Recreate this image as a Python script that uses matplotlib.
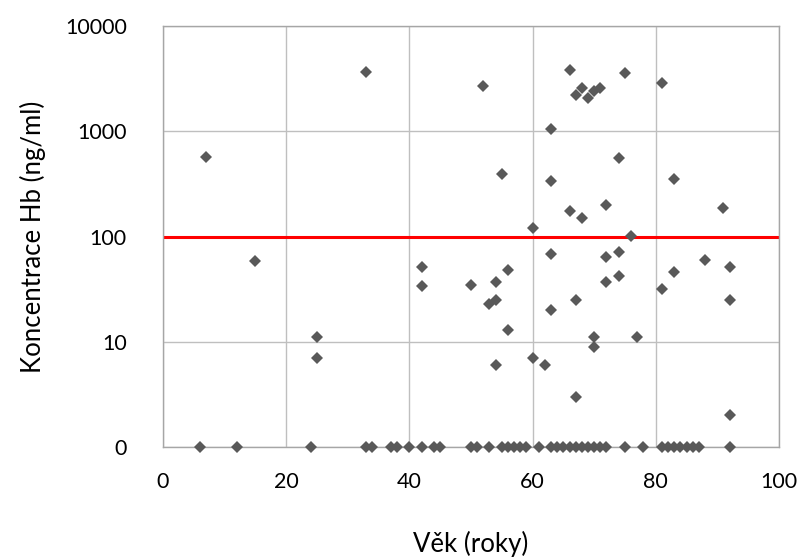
import matplotlib.pyplot as plt
import matplotlib.ticker as mticker

plt.rcParams['font.family'] = ['Lato', 'DejaVu Sans']

# points with a measured concentration (ng/ml)
age = [7, 15, 25, 25, 33, 42, 42, 50, 52, 53, 54, 54, 54, 55, 56, 56,
       60, 60, 62, 63, 63, 63, 63, 66, 66, 67, 67, 67, 68, 68, 69, 70,
       70, 70, 71, 72, 72, 72, 74, 74, 74, 75, 76, 77, 81, 81, 83, 83,
       88, 91, 92, 92, 92]
hb = [570, 58, 11, 7, 3700, 51, 34, 34.5, 2700, 23, 37, 25, 6, 390, 48, 13,
      120, 7, 6, 1050, 340, 69, 20, 3800, 175, 2200, 25, 3, 2600, 150, 2100, 2400,
      11, 9, 2600, 200, 64, 37, 560, 71, 42, 3600, 102, 11, 2900, 32, 350, 46,
      60, 185, 51, 25, 2]

# points with concentration 0 (drawn on the "0" line)
age_zero = [6, 12, 24, 33, 34, 37, 38, 40, 42, 44, 45, 50, 51, 53, 55, 56, 57,
            58, 59, 61, 63, 64, 65, 66, 67, 68, 69, 70, 71, 72, 75, 78, 81, 82,
            83, 84, 85, 86, 87, 92]

limit = 100
ytick_vals = [1, 10, 100, 1000, 10000]
ytick_labels = ["0", "10", "100", "1000", "10000"]

fig = plt.figure(figsize=(8.03, 5.58), dpi=100)
ax = fig.add_axes([0.203, 0.199, 0.767, 0.754])

ax.set_yscale('log')
ax.set_xlim(0, 100)
ax.set_ylim(1, 10000)

ax.grid(True, color='#bfbfbf', linewidth=1)
ax.set_axisbelow(True)
for s in ax.spines.values():
    s.set_color('#a6a6a6')
    s.set_linewidth(1)

ax.axhline(limit, color='#ff0000', linewidth=2.2, zorder=2)

mk = dict(marker='D', linestyle='none', markersize=6.2, color='#595959',
          markeredgewidth=0, zorder=3, clip_on=False)
ax.plot(age, hb, **mk)
ax.plot(age_zero, [1] * len(age_zero), **mk)

ax.set_xticks([0, 20, 40, 60, 80, 100])
ax.yaxis.set_major_locator(mticker.FixedLocator(ytick_vals))
ax.yaxis.set_minor_locator(mticker.NullLocator())
ax.set_yticklabels(ytick_labels)
ax.tick_params(axis='both', length=0, labelsize=15.5, colors='black')
ax.tick_params(axis='y', pad=26)
ax.tick_params(axis='x', pad=18)

ax.set_xlabel("Věk (roky)", fontsize=18.5, labelpad=28)
ax.set_ylabel("Koncentrace Hb (ng/ml)", fontsize=18.5, labelpad=14)

fig.savefig("out.png", dpi=100)
